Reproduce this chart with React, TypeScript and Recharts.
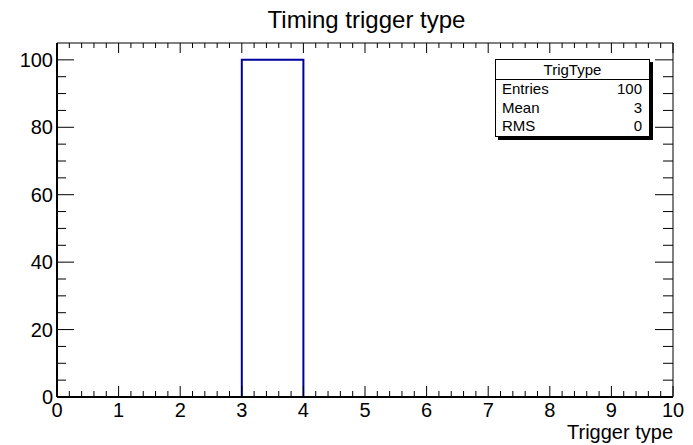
import React from "react";
import { LineChart, Line, XAxis, YAxis } from "recharts";

// histogram "TrigType": 10 bins of width 1 over [0, 10]
const binEdges = [0, 1, 2, 3, 4, 5, 6, 7, 8, 9, 10];
const binCounts = [0, 0, 0, 100, 0, 0, 0, 0, 0, 0];

const statsRows = [
  { name: "Entries", value: "100" },
  { name: "Mean", value: "3" },
  { name: "RMS", value: "0" },
];

// ROOT-like tick positions: majors at integers / 20s, minors at 0.2 / 5
const xTicks = Array.from({ length: 51 }, (_, i) => i / 5);
const yTicks = Array.from({ length: 21 }, (_, i) => i * 5);

// step line needs a closing point at the last edge
const data = binEdges.map((x, i) => ({
  x,
  y: binCounts[Math.min(i, binCounts.length - 1)],
}));

const FONT = "'Liberation Sans', Arial, Helvetica, sans-serif";

const isMajorX = (v: number) => Math.abs(v - Math.round(v)) < 1e-6;
const isMajorY = (v: number) => v % 20 === 0;

// bottom axis has height 1, so the tick y sits 1px below the frame
const BottomTick = (props: any) => {
  const { x, payload } = props;
  const y = props.y - 1;
  const major = isMajorX(payload.value);
  return (
    <g>
      <line x1={x} y1={y} x2={x} y2={y - (major ? 10 : 5)} stroke="#000" strokeWidth={1} />
      {major && (
        <text x={x} y={y + 21} textAnchor="middle" fontSize={20} fontFamily={FONT} fill="#000">
          {Math.round(payload.value)}
        </text>
      )}
    </g>
  );
};

const TopTick = (props: any) => {
  const { x, y, payload } = props;
  const major = isMajorX(payload.value);
  return <line x1={x} y1={y} x2={x} y2={y + (major ? 10 : 5)} stroke="#000" strokeWidth={1} />;
};

const LeftTick = (props: any) => {
  const { x, y, payload } = props;
  const major = isMajorY(payload.value);
  return (
    <g>
      <line x1={x} y1={y} x2={x + (major ? 17 : 9)} y2={y} stroke="#000" strokeWidth={1} />
      {major && (
        <text x={x - 4} y={y + 7} textAnchor="end" fontSize={20} fontFamily={FONT} fill="#000">
          {payload.value}
        </text>
      )}
    </g>
  );
};

const RightTick = (props: any) => {
  const { x, y, payload } = props;
  const major = isMajorY(payload.value);
  return <line x1={x} y1={y} x2={x - (major ? 18 : 10)} y2={y} stroke="#000" strokeWidth={1} />;
};

export default function App() {
  return (
    <div
      style={{
        position: "absolute",
        left: 0,
        top: 0,
        width: 693,
        height: 445,
        background: "#fff",
        fontFamily: FONT,
      }}
    >
      <div
        style={{
          position: "absolute",
          left: 0,
          width: 693,
          top: 6,
          textAlign: "center",
          fontSize: 24,
          lineHeight: "28px",
          paddingLeft: 40,
          boxSizing: "border-box",
        }}
      >
        Timing trigger type
      </div>

      <LineChart
        width={693}
        height={445}
        data={data}
        margin={{ top: 42, right: 19, bottom: 47, left: 0 }}
      >
        <XAxis
          xAxisId="bottom"
          dataKey="x"
          type="number"
          domain={[0, 10]}
          ticks={xTicks}
          interval={0}
          height={1}
          tickSize={0}
          tickMargin={0}
          tick={<BottomTick />}
          axisLine={{ stroke: "#000", strokeWidth: 2 }}
          tickLine={false}
          allowDataOverflow
        />
        <XAxis
          xAxisId="top"
          orientation="top"
          dataKey="x"
          type="number"
          domain={[0, 10]}
          ticks={xTicks}
          interval={0}
          height={1}
          tickSize={0}
          tickMargin={0}
          tick={<TopTick />}
          axisLine={{ stroke: "#000", strokeWidth: 1 }}
          tickLine={false}
          allowDataOverflow
        />
        <YAxis
          yAxisId="left"
          type="number"
          domain={[0, 105]}
          ticks={yTicks}
          interval={0}
          width={57}
          tickSize={0}
          tickMargin={0}
          tick={<LeftTick />}
          axisLine={{ stroke: "#000", strokeWidth: 2 }}
          tickLine={false}
          allowDataOverflow
        />
        <YAxis
          yAxisId="right"
          orientation="right"
          type="number"
          domain={[0, 105]}
          ticks={yTicks}
          interval={0}
          width={1}
          tickSize={0}
          tickMargin={0}
          tick={<RightTick />}
          axisLine={{ stroke: "#000", strokeWidth: 1 }}
          tickLine={false}
          allowDataOverflow
        />
        <Line
          xAxisId="bottom"
          yAxisId="left"
          type="stepAfter"
          dataKey="y"
          stroke="#00009a"
          strokeWidth={2}
          dot={false}
          activeDot={false}
          isAnimationActive={false}
        />
      </LineChart>

      <div
        style={{
          position: "absolute",
          right: 20,
          top: 420,
          fontSize: 20,
          lineHeight: "24px",
        }}
      >
        Trigger type
      </div>

      <div
        style={{
          position: "absolute",
          left: 495,
          top: 59,
          width: 155,
          border: "1px solid #000",
          boxShadow: "3px 3px 0 #000",
          background: "#fff",
          fontSize: 15,
          boxSizing: "border-box",
        }}
      >
        <div
          style={{
            textAlign: "center",
            height: 19,
            lineHeight: "19px",
            borderBottom: "1px solid #000",
          }}
        >
          TrigType
        </div>
        {statsRows.map((r) => (
          <div
            key={r.name}
            style={{
              display: "flex",
              justifyContent: "space-between",
              padding: "0 7px 0 6px",
              height: 18.5,
              lineHeight: "18.5px",
            }}
          >
            <span>{r.name}</span>
            <span>{r.value}</span>
          </div>
        ))}
      </div>
    </div>
  );
}
